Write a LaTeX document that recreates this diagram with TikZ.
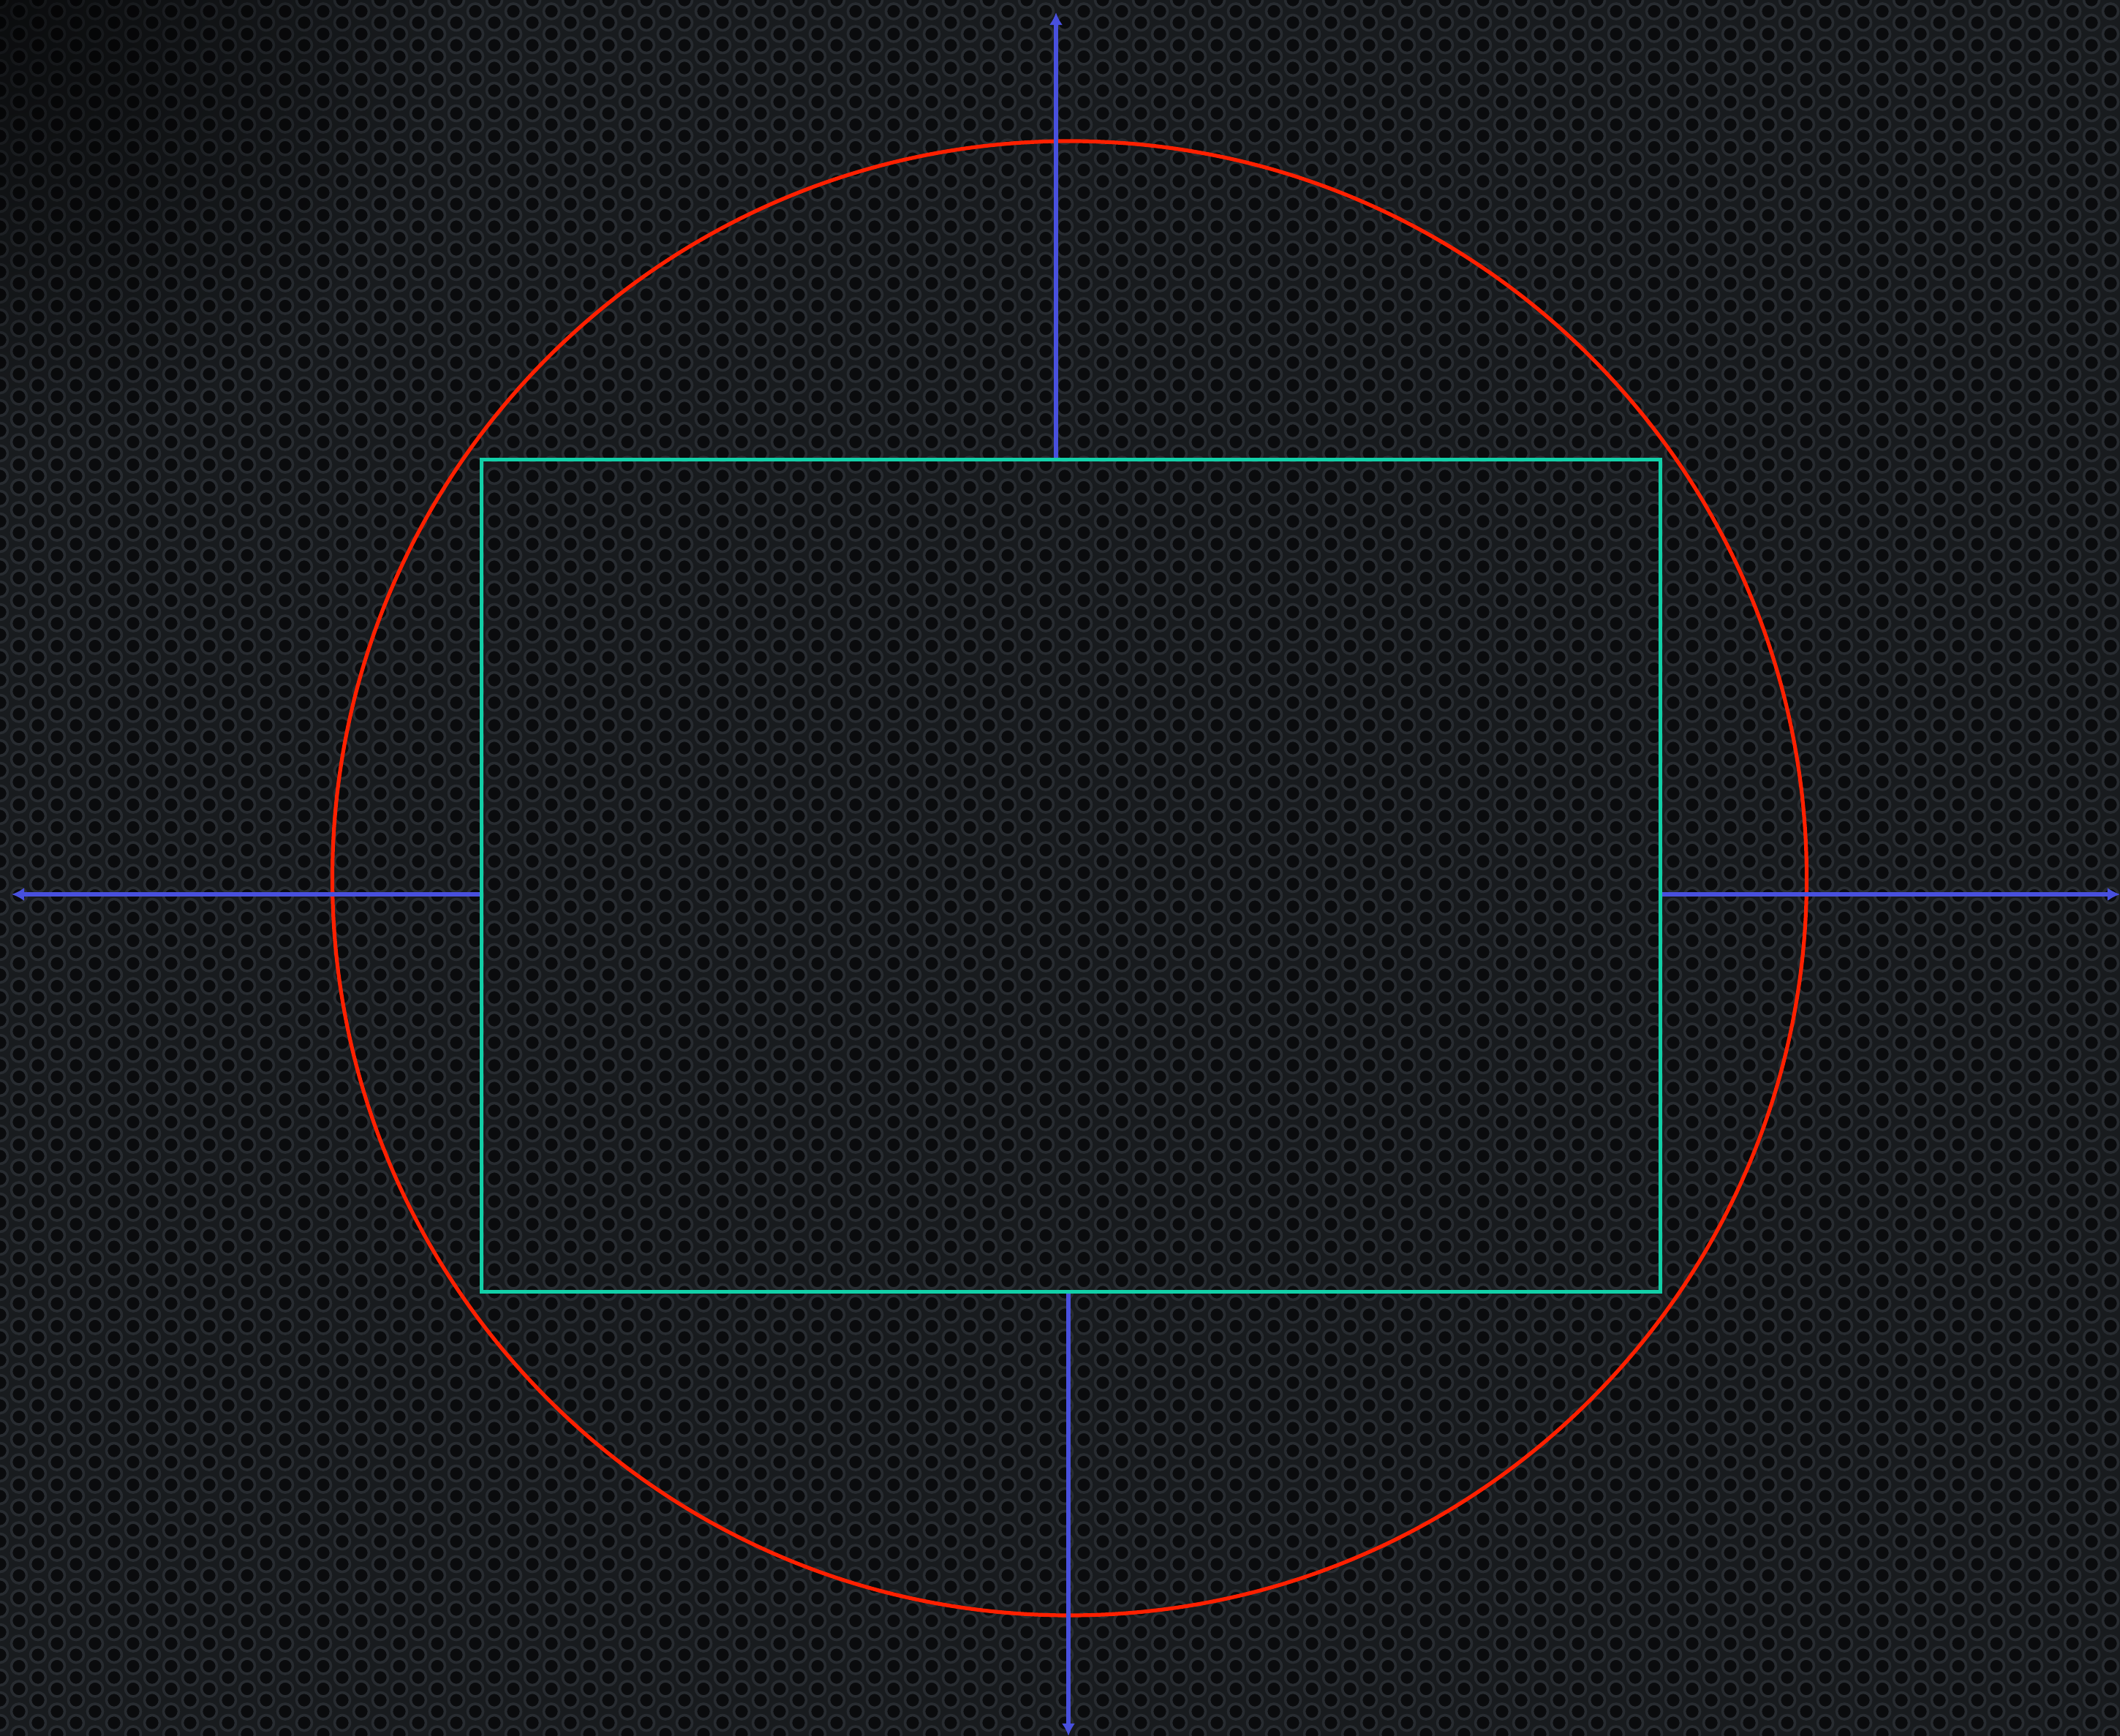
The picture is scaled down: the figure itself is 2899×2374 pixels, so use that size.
\documentclass[tikz,border=0pt]{standalone}
\usepackage{tikz}
\usetikzlibrary{positioning, arrows.meta, calc, fadings}

\definecolor{plate}{RGB}{24,27,30}
\definecolor{holefill}{RGB}{10,11,13}
\definecolor{holerim}{RGB}{40,44,49}
\definecolor{axisblue}{RGB}{72,80,222}
\definecolor{boxteal}{RGB}{18,208,168}
\definecolor{ringred}{RGB}{255,32,0}

\tikzfading[name=corner fade, inner color=transparent!0, outer color=transparent!100]

\tikzset{
  hole/.style={fill=holefill, draw=holerim, line width=0.9pt},
  axis/.style={draw=axisblue, line width=1.3pt, ->},
  framebox/.style={draw=boxteal, line width=1.25pt, inner sep=0pt,
    minimum width=403pt, minimum height=284.5pt},
  envelope/.style={circle, draw=ringred, line width=1.3pt, inner sep=0pt,
    minimum size=504pt}
}

\begin{document}
\begin{tikzpicture}[x=0.25pt, y=-0.25pt, >={Latex[length=4.3pt,width=4.6pt]}]

% Hintergrund (Lochblech)
\useasboundingbox (0,0) rectangle (2899,2374);
\fill[plate] (0,0) rectangle (2899,2374);
\begin{scope}
  \clip (0,0) rectangle (2899,2374);
  \foreach \i in {0,...,112} {
    \pgfmathsetmacro{\xx}{\i*26}
    \pgfmathsetmacro{\yo}{mod(\i,2)*15.5}
    \path[hole] \foreach \j in {0,...,77} {(\xx,{\j*31+\yo}) circle (10.5)};
  }
  % dunkle Ecke oben links
  \fill[black, path fading=corner fade, opacity=0.55] (0,0) circle (600);
\end{scope}

% Kreis und Rechteck
\node[envelope] (ring) at (1462.5,1201) {};
\node[framebox] (box) at (1464,1197.5) {};

% Achsen
\coordinate (top) at (1444,17);
\coordinate (bottom) at (1461,2374);
\coordinate (left) at (16,1223);
\coordinate (right) at (2899,1223);

\draw[axis] (box.north -| top) -- (top);
\draw[axis] (box.south -| bottom) -- (bottom);
\draw[axis] (box.west |- left) -- (left);
\draw[axis] (box.east |- right) -- (right);

\end{tikzpicture}
\end{document}
